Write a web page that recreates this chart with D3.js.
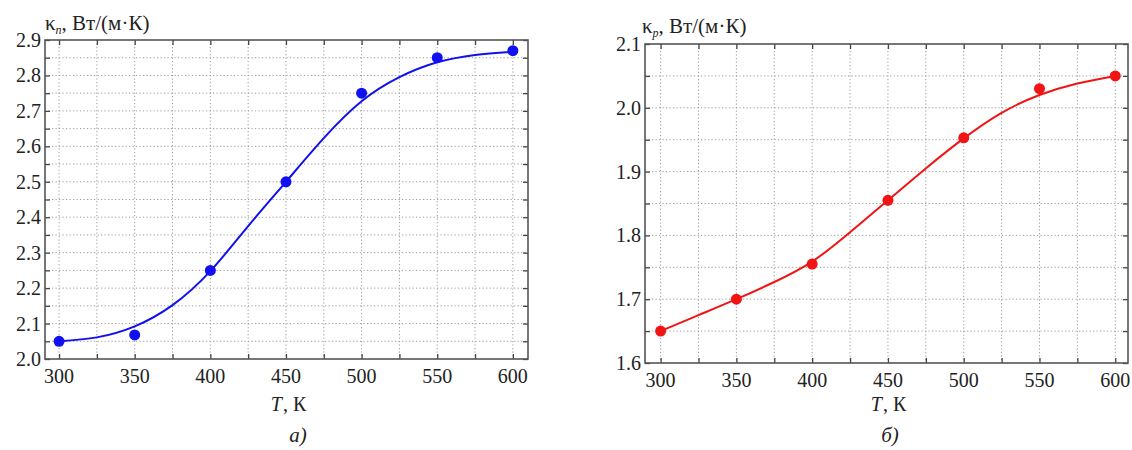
<!DOCTYPE html>
<html>
<head>
<meta charset="utf-8">
<script src="https://cdn.jsdelivr.net/npm/d3@7"></script>
<style>
  body { margin: 0; background: #fff; }
</style>
</head>
<body>
<svg width="1132" height="450"></svg>
<script>
// measured points
const temps = [300, 350, 400, 450, 500, 550, 600];
const kappaN = [2.05, 2.068, 2.25, 2.50, 2.75, 2.85, 2.87];
const kappaP = [1.65, 1.70, 1.755, 1.855, 1.953, 2.03, 2.05];

// fitted curves, every 25 K
const fitTemps = [300, 325, 350, 375, 400, 425, 450, 475, 500, 525, 550, 575, 600];
const kappaNFit = [2.05, 2.061, 2.092, 2.152, 2.248, 2.375, 2.50, 2.623, 2.727, 2.795, 2.837, 2.858, 2.867];
const kappaPFit = [1.65, 1.675, 1.70, 1.727, 1.759, 1.805, 1.855, 1.905, 1.952, 1.992, 2.02, 2.038, 2.05];

// ticks
const xTickLabels = [300, 350, 400, 450, 500, 550, 600];
const xMinorTicks = [300, 325, 350, 375, 400, 425, 450, 475, 500, 525, 550, 575, 600];
const yTicksN = [2.0, 2.1, 2.2, 2.3, 2.4, 2.5, 2.6, 2.7, 2.8, 2.9];
const yTicksP = [1.6, 1.7, 1.8, 1.9, 2.0, 2.1];

const serif = "'Liberation Serif', 'Times New Roman', 'DejaVu Serif', serif";
const svg = d3.select("svg");

function drawPanel(svg, cfg) {
    const g = svg.append("g").attr("font-family", serif);

    let scX = d3.scaleLinear().domain(cfg.xDomain).range([cfg.left, cfg.right]);
    let scY = d3.scaleLinear().domain(cfg.yDomain).range([cfg.bottom, cfg.top]);

    // minor y grid every 0.05
    let yFine = d3.range(cfg.yDomain[0] * 20, cfg.yDomain[1] * 20 + 0.5).map(v => v / 20);

    // grid
    g.selectAll(".gx").data(xMinorTicks).enter().append("line")
        .attr("x1", d => scX(d)).attr("x2", d => scX(d))
        .attr("y1", cfg.top).attr("y2", cfg.bottom)
        .attr("stroke", "#9a9a9a").attr("stroke-width", 1)
        .attr("stroke-dasharray", "1.2,2.3");
    g.selectAll(".gy").data(yFine.slice(1, -1)).enter().append("line")
        .attr("x1", cfg.left).attr("x2", cfg.right)
        .attr("y1", d => scY(d)).attr("y2", d => scY(d))
        .attr("stroke", "#9a9a9a").attr("stroke-width", 1)
        .attr("stroke-dasharray", "1.2,2.3");

    // axes with inward ticks on all four sides
    const tick = -5;
    g.append("g").attr("transform", `translate(0, ${cfg.bottom})`)
        .call(d3.axisBottom(scX).tickValues(xMinorTicks).tickSizeInner(tick).tickSizeOuter(0).tickFormat(""));
    g.append("g").attr("transform", `translate(0, ${cfg.top})`)
        .call(d3.axisTop(scX).tickValues(xMinorTicks).tickSizeInner(tick).tickSizeOuter(0).tickFormat(""));
    g.append("g").attr("transform", `translate(${cfg.left}, 0)`)
        .call(d3.axisLeft(scY).tickValues(yFine).tickSizeInner(tick).tickSizeOuter(0).tickFormat(""));
    g.append("g").attr("transform", `translate(${cfg.right}, 0)`)
        .call(d3.axisRight(scY).tickValues(yFine).tickSizeInner(tick).tickSizeOuter(0).tickFormat(""));
    g.selectAll(".domain").remove();
    g.selectAll(".tick line").attr("stroke", "#444").attr("stroke-width", 1.3);

    g.append("rect")
        .attr("x", cfg.left).attr("y", cfg.top)
        .attr("width", cfg.right - cfg.left).attr("height", cfg.bottom - cfg.top)
        .attr("fill", "none").attr("stroke", "#555").attr("stroke-width", 1.6);

    // tick labels
    g.selectAll(".xl").data(xTickLabels).enter().append("text")
        .attr("x", d => scX(d)).attr("y", cfg.bottom + 24)
        .attr("font-family", serif)
        .attr("text-anchor", "middle").attr("font-size", 20).attr("fill", "#222")
        .text(d => d);
    g.selectAll(".yl").data(cfg.yTicks).enter().append("text")
        .attr("x", cfg.left - 4).attr("y", d => scY(d))
        .attr("dy", "0.35em").attr("font-family", serif)
        .attr("text-anchor", "end").attr("font-size", 20).attr("fill", "#222")
        .text(d => d.toFixed(1));

    // axis titles
    let t = g.append("text")
        .attr("x", cfg.titleX).attr("y", cfg.titleY)
        .attr("font-family", serif)
        .attr("font-size", 21).attr("fill", "#222");
    t.append("tspan").text("κ");
    t.append("tspan").attr("font-size", 12).attr("font-style", "italic")
        .attr("dy", 4).text(cfg.sub);
    t.append("tspan").attr("dy", -4).text(", Вт/(м·К)");

    let xt = g.append("text")
        .attr("x", (cfg.left + cfg.right) / 2 + 2).attr("y", 411)
        .attr("font-family", serif)
        .attr("text-anchor", "middle").attr("font-size", 20).attr("fill", "#222");
    xt.append("tspan").attr("font-style", "italic").text("T");
    xt.append("tspan").attr("dx", 1).text(", К");

    g.append("text")
        .attr("x", cfg.captionX).attr("y", 442)
        .attr("font-family", serif)
        .attr("text-anchor", "middle").attr("font-size", 21)
        .attr("font-style", "italic").attr("fill", "#222")
        .text(cfg.caption);

    // fitted curve
    let line = d3.line()
        .x(d => scX(d[0]))
        .y(d => scY(d[1]))
        .curve(d3.curveNatural);
    g.append("path")
        .datum(fitTemps.map((x, i) => [x, cfg.fit[i]]))
        .attr("d", line)
        .attr("fill", "none").attr("stroke", cfg.color).attr("stroke-width", 2);

    // points
    g.selectAll(".dot").data(temps).enter().append("circle")
        .attr("cx", d => scX(d))
        .attr("cy", (d, i) => scY(cfg.values[i]))
        .attr("r", 5.5)
        .attr("fill", cfg.color);
}

drawPanel(svg, {
    left: 45, right: 528, top: 40, bottom: 359,
    xDomain: [290.7, 610], yDomain: [2.0, 2.9], yTicks: yTicksN,
    values: kappaN, fit: kappaNFit, color: "#1010f0",
    sub: "n", titleX: 45, titleY: 30, caption: "а)", captionX: 298
});

drawPanel(svg, {
    left: 645, right: 1128, top: 44, bottom: 363,
    xDomain: [289.7, 608.4], yDomain: [1.6, 2.1], yTicks: yTicksP,
    values: kappaP, fit: kappaPFit, color: "#f01414",
    sub: "p", titleX: 642, titleY: 33, caption: "б)", captionX: 890
});
</script>
</body>
</html>
